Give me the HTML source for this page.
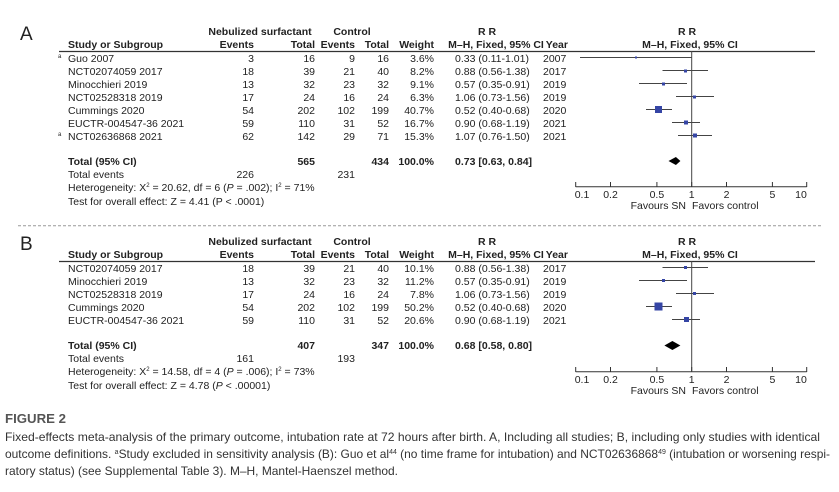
<!DOCTYPE html>
<html><head><meta charset="utf-8"><style>
html,body{margin:0;padding:0;background:#fff;width:839px;height:492px;overflow:hidden}
svg{display:block}
text{font-family:"Liberation Sans",sans-serif;font-size:10.5px;fill:#222}
.b{font-weight:bold}
.cap{font-family:"Liberation Sans Narrow","Liberation Sans",sans-serif;font-size:12px;fill:#333}
</style></head><body>
<svg width="839" height="492" viewBox="0 0 839 492">
<defs>
<g id="hdr">
<text x="260" y="35" class="b" text-anchor="middle">Nebulized surfactant</text>
<text x="352" y="35" class="b" text-anchor="middle">Control</text>
<text x="487" y="35" class="b" text-anchor="middle">R R</text>
<text x="687" y="35" class="b" text-anchor="middle">R R</text>
<text x="68" y="48" class="b">Study or Subgroup</text>
<text x="254" y="48" class="b" text-anchor="end">Events</text>
<text x="315" y="48" class="b" text-anchor="end">Total</text>
<text x="355" y="48" class="b" text-anchor="end">Events</text>
<text x="389" y="48" class="b" text-anchor="end">Total</text>
<text x="434" y="48" class="b" text-anchor="end">Weight</text>
<text x="496" y="48" class="b" text-anchor="middle">M–H, Fixed, 95% CI</text>
<text x="568" y="48" class="b" text-anchor="end">Year</text>
<text x="690" y="48" class="b" text-anchor="middle">M–H, Fixed, 95% CI</text>
<line x1="59" y1="51.5" x2="815" y2="51.5" stroke="#333" stroke-width="1.2"/>
</g>
<g id="axis">
<line x1="575.7" y1="186.7" x2="806.7" y2="186.7" stroke="#333"/>
<g stroke="#333">
<line x1="575.7" y1="182" x2="575.7" y2="187"/><line x1="610.5" y1="182" x2="610.5" y2="187"/>
<line x1="656.9" y1="182" x2="656.9" y2="187"/><line x1="691.7" y1="182" x2="691.7" y2="187"/>
<line x1="726.5" y1="182" x2="726.5" y2="187"/><line x1="772.4" y1="182" x2="772.4" y2="187"/>
<line x1="806.7" y1="182" x2="806.7" y2="187"/>
</g>
<text x="582" y="198" text-anchor="middle">0.1</text><text x="610.5" y="198" text-anchor="middle">0.2</text>
<text x="656.9" y="198" text-anchor="middle">0.5</text><text x="691.7" y="198" text-anchor="middle">1</text>
<text x="726.5" y="198" text-anchor="middle">2</text><text x="772.4" y="198" text-anchor="middle">5</text>
<text x="801" y="198" text-anchor="middle">10</text>
<text x="686" y="209" text-anchor="end">Favours SN</text>
<text x="692" y="209">Favors control</text>
</g>
</defs>

<!-- Panel A -->
<text x="20" y="40" style="font-size:19px">A</text>
<use href="#hdr"/>
<g>
<text x="58" y="58" style="font-size:6px">a</text>
<text x="68" y="62">Guo 2007</text><text x="254" y="62" text-anchor="end">3</text><text x="315" y="62" text-anchor="end">16</text><text x="355" y="62" text-anchor="end">9</text><text x="389" y="62" text-anchor="end">16</text><text x="434" y="62" text-anchor="end">3.6%</text><text x="455" y="62">0.33  (0.11-1.01)</text><text x="543" y="62">2007</text>
<text x="68" y="75">NCT02074059 2017</text><text x="254" y="75" text-anchor="end">18</text><text x="315" y="75" text-anchor="end">39</text><text x="355" y="75" text-anchor="end">21</text><text x="389" y="75" text-anchor="end">40</text><text x="434" y="75" text-anchor="end">8.2%</text><text x="455" y="75">0.88  (0.56-1.38)</text><text x="543" y="75">2017</text>
<text x="68" y="88">Minocchieri 2019</text><text x="254" y="88" text-anchor="end">13</text><text x="315" y="88" text-anchor="end">32</text><text x="355" y="88" text-anchor="end">23</text><text x="389" y="88" text-anchor="end">32</text><text x="434" y="88" text-anchor="end">9.1%</text><text x="455" y="88">0.57  (0.35-0.91)</text><text x="543" y="88">2019</text>
<text x="68" y="101">NCT02528318 2019</text><text x="254" y="101" text-anchor="end">17</text><text x="315" y="101" text-anchor="end">24</text><text x="355" y="101" text-anchor="end">16</text><text x="389" y="101" text-anchor="end">24</text><text x="434" y="101" text-anchor="end">6.3%</text><text x="455" y="101">1.06  (0.73-1.56)</text><text x="543" y="101">2019</text>
<text x="68" y="114">Cummings 2020</text><text x="254" y="114" text-anchor="end">54</text><text x="315" y="114" text-anchor="end">202</text><text x="355" y="114" text-anchor="end">102</text><text x="389" y="114" text-anchor="end">199</text><text x="434" y="114" text-anchor="end">40.7%</text><text x="455" y="114">0.52  (0.40-0.68)</text><text x="543" y="114">2020</text>
<text x="68" y="127">EUCTR-004547-36 2021</text><text x="254" y="127" text-anchor="end">59</text><text x="315" y="127" text-anchor="end">110</text><text x="355" y="127" text-anchor="end">31</text><text x="389" y="127" text-anchor="end">52</text><text x="434" y="127" text-anchor="end">16.7%</text><text x="455" y="127">0.90  (0.68-1.19)</text><text x="543" y="127">2021</text>
<text x="58" y="136" style="font-size:6px">a</text>
<text x="68" y="140">NCT02636868 2021</text><text x="254" y="140" text-anchor="end">62</text><text x="315" y="140" text-anchor="end">142</text><text x="355" y="140" text-anchor="end">29</text><text x="389" y="140" text-anchor="end">71</text><text x="434" y="140" text-anchor="end">15.3%</text><text x="455" y="140">1.07  (0.76-1.50)</text><text x="543" y="140">2021</text>
<text x="68" y="165" class="b">Total (95% CI)</text><text x="315" y="165" class="b" text-anchor="end">565</text><text x="389" y="165" class="b" text-anchor="end">434</text><text x="434" y="165" class="b" text-anchor="end">100.0%</text><text x="455" y="165" class="b">0.73 [0.63, 0.84]</text>
<text x="68" y="178">Total events</text><text x="254" y="178" text-anchor="end">226</text><text x="355" y="178" text-anchor="end">231</text>
<text x="68" y="191">Heterogeneity:  X<tspan dy="-4" style="font-size:6px">2</tspan><tspan dy="4"> = 20.62, df = 6 (</tspan><tspan font-style="italic">P</tspan> = .002); I<tspan dy="-4" style="font-size:6px">2</tspan><tspan dy="4"> = 71%</tspan></text>
<text x="68" y="205">Test for overall effect: Z = 4.41 (P &lt; .0001)</text>
</g>
<line x1="691.7" y1="51" x2="691.7" y2="187" stroke="#444"/>
<g stroke="#444" stroke-width="1">
<line x1="580" y1="57.5" x2="692" y2="57.5"/>
<line x1="662.5" y1="70.5" x2="708" y2="70.5"/>
<line x1="639" y1="83.5" x2="687" y2="83.5"/>
<line x1="676" y1="96.5" x2="714" y2="96.5"/>
<line x1="646" y1="109.5" x2="672" y2="109.5"/>
<line x1="672" y1="122.5" x2="700" y2="122.5"/>
<line x1="678" y1="135.5" x2="712" y2="135.5"/>
</g>
<g fill="#3545a5">
<rect x="635" y="56.5" width="2" height="2"/>
<rect x="684" y="69.5" width="3" height="3"/>
<rect x="662" y="82.5" width="3" height="3"/>
<rect x="693" y="95.5" width="3" height="3"/>
<rect x="655" y="106" width="7" height="7"/>
<rect x="684" y="120.5" width="4" height="4"/>
<rect x="693" y="133.5" width="4" height="4"/>
</g>
<polygon points="668.5,161 675.9,157 680.4,161 675.9,165" fill="#000"/>
<use href="#axis"/>

<line x1="18" y1="225.7" x2="822" y2="225.7" stroke="#999" stroke-dasharray="3,2"/>

<!-- Panel B -->
<text x="20" y="250" style="font-size:19px">B</text>
<use href="#hdr" transform="translate(0,210)"/>
<g transform="translate(0,210)">
<text x="68" y="62">NCT02074059 2017</text><text x="254" y="62" text-anchor="end">18</text><text x="315" y="62" text-anchor="end">39</text><text x="355" y="62" text-anchor="end">21</text><text x="389" y="62" text-anchor="end">40</text><text x="434" y="62" text-anchor="end">10.1%</text><text x="455" y="62">0.88  (0.56-1.38)</text><text x="543" y="62">2017</text>
<text x="68" y="75">Minocchieri 2019</text><text x="254" y="75" text-anchor="end">13</text><text x="315" y="75" text-anchor="end">32</text><text x="355" y="75" text-anchor="end">23</text><text x="389" y="75" text-anchor="end">32</text><text x="434" y="75" text-anchor="end">11.2%</text><text x="455" y="75">0.57  (0.35-0.91)</text><text x="543" y="75">2019</text>
<text x="68" y="88">NCT02528318 2019</text><text x="254" y="88" text-anchor="end">17</text><text x="315" y="88" text-anchor="end">24</text><text x="355" y="88" text-anchor="end">16</text><text x="389" y="88" text-anchor="end">24</text><text x="434" y="88" text-anchor="end">7.8%</text><text x="455" y="88">1.06  (0.73-1.56)</text><text x="543" y="88">2019</text>
<text x="68" y="101">Cummings 2020</text><text x="254" y="101" text-anchor="end">54</text><text x="315" y="101" text-anchor="end">202</text><text x="355" y="101" text-anchor="end">102</text><text x="389" y="101" text-anchor="end">199</text><text x="434" y="101" text-anchor="end">50.2%</text><text x="455" y="101">0.52  (0.40-0.68)</text><text x="543" y="101">2020</text>
<text x="68" y="114">EUCTR-004547-36 2021</text><text x="254" y="114" text-anchor="end">59</text><text x="315" y="114" text-anchor="end">110</text><text x="355" y="114" text-anchor="end">31</text><text x="389" y="114" text-anchor="end">52</text><text x="434" y="114" text-anchor="end">20.6%</text><text x="455" y="114">0.90  (0.68-1.19)</text><text x="543" y="114">2021</text>
<text x="68" y="139" class="b">Total (95% CI)</text><text x="315" y="139" class="b" text-anchor="end">407</text><text x="389" y="139" class="b" text-anchor="end">347</text><text x="434" y="139" class="b" text-anchor="end">100.0%</text><text x="455" y="139" class="b">0.68 [0.58, 0.80]</text>
<text x="68" y="152">Total events</text><text x="254" y="152" text-anchor="end">161</text><text x="355" y="152" text-anchor="end">193</text>
<text x="68" y="165">Heterogeneity:  X<tspan dy="-4" style="font-size:6px">2</tspan><tspan dy="4"> = 14.58, df = 4 (</tspan><tspan font-style="italic">P</tspan> = .006); I<tspan dy="-4" style="font-size:6px">2</tspan><tspan dy="4"> = 73%</tspan></text>
<text x="68" y="179">Test for overall effect: Z = 4.78 (<tspan font-style="italic">P</tspan> &lt; .00001)</text>
<line x1="691.7" y1="51" x2="691.7" y2="161" stroke="#444"/>
<g stroke="#444">
<line x1="662.5" y1="57.5" x2="708" y2="57.5"/>
<line x1="639" y1="70.5" x2="687" y2="70.5"/>
<line x1="676" y1="83.5" x2="714" y2="83.5"/>
<line x1="646" y1="96.5" x2="672" y2="96.5"/>
<line x1="672" y1="109.5" x2="700" y2="109.5"/>
</g>
<g fill="#3545a5">
<rect x="684" y="56" width="3" height="3"/>
<rect x="662" y="69" width="3" height="3"/>
<rect x="693" y="82" width="3" height="3"/>
<rect x="654.5" y="92.5" width="8" height="8"/>
<rect x="684" y="107" width="5" height="5"/>
</g>
<polygon points="664.4,135.5 672.4,131 680.4,135.5 672.4,140" fill="#000"/>
<use href="#axis" transform="translate(0,-25)"/>
</g>

<!-- Caption -->
<text x="5" y="423" class="cap b" style="font-size:13px;fill:#555" textLength="61" lengthAdjust="spacingAndGlyphs">FIGURE 2</text>
<text x="5" y="441" class="cap" textLength="815" lengthAdjust="spacingAndGlyphs">Fixed-effects meta-analysis of the primary outcome, intubation rate at 72 hours after birth. A, Including all studies; B, including only studies with identical</text>
<text x="5" y="458" class="cap" textLength="825" lengthAdjust="spacingAndGlyphs">outcome definitions. <tspan dy="-4" style="font-size:7px">a</tspan><tspan dy="4">Study excluded in sensitivity analysis (B): Guo et al</tspan><tspan dy="-4" style="font-size:7px">44</tspan><tspan dy="4"> (no time frame for intubation) and NCT02636868</tspan><tspan dy="-4" style="font-size:7px">49</tspan><tspan dy="4"> (intubation or worsening respi-</tspan></text>
<text x="5" y="475" class="cap" textLength="393" lengthAdjust="spacingAndGlyphs">ratory status) (see Supplemental Table 3). M–H, Mantel-Haenszel method.</text>
</svg>
</body></html>
